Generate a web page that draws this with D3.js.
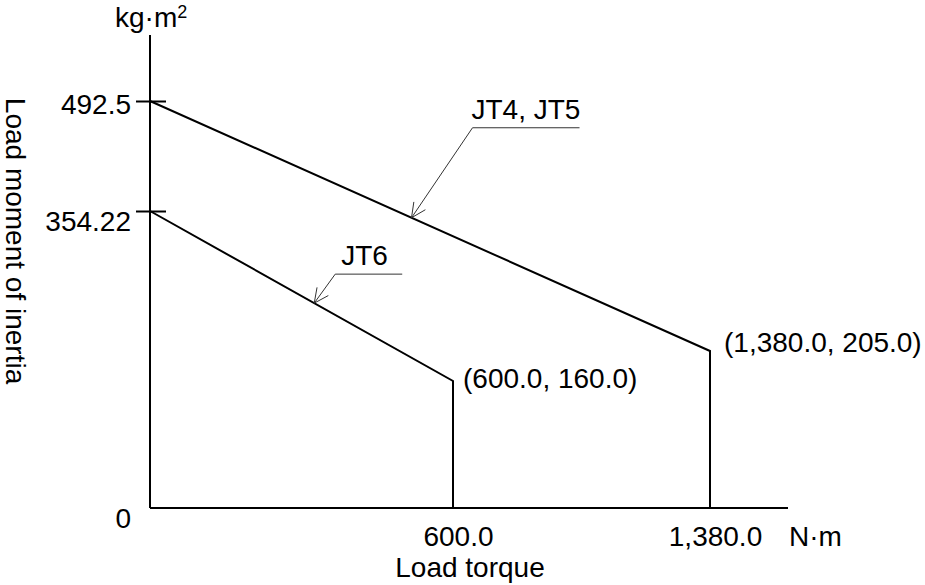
<!DOCTYPE html>
<html>
<head>
<meta charset="utf-8">
<script src="https://d3js.org/d3.v7.min.js"></script>
<style>
  body { margin: 0; background: #fff; }
  text { font-family: "Liberation Sans", Arial, sans-serif; fill: #000; }
</style>
</head>
<body>
<div id="vis"></div>
<script>
// Data
const SERIES_NAMES = ["JT4, JT5", "JT6"];
const MAX_TORQUE = [1380, 600];          // N·m, end of each curve
const INERTIA_AT_ZERO = [492.5, 354.22]; // kg·m² at zero torque
const INERTIA_AT_MAX = [205, 160];       // kg·m² at max torque
const X_TICKS = [600, 1380];
const Y_TICKS = [0, 354.22, 492.5];
const Y_TICK_LABELS = ["0", "354.22", "492.5"];

// Frame
const FRAME_WIDTH = 925;
const FRAME_HEIGHT = 585;
const FONT = 28;

const FRAME = d3.select("#vis")
                .append("svg")
                  .attr("width", FRAME_WIDTH)
                  .attr("height", FRAME_HEIGHT);

// the drawing is not to scale, so the scales are piecewise
const X_SCALE = d3.scaleLinear()
                  .domain([0, 600, 1380])
                  .range([150, 453, 710]);

const Y_SCALE = d3.scaleLinear()
                  .domain([0, 160, 205, 354.22, 492.5])
                  .range([508, 381, 351, 211, 101]);

const AXIS_TOP = 35;
const AXIS_RIGHT = 788;

// axis lines
FRAME.append("line")
      .attr("x1", X_SCALE(0)).attr("x2", X_SCALE(0))
      .attr("y1", Y_SCALE(0)).attr("y2", AXIS_TOP)
      .attr("stroke", "#000").attr("stroke-width", 2);

FRAME.append("line")
      .attr("x1", X_SCALE(0)).attr("x2", AXIS_RIGHT)
      .attr("y1", Y_SCALE(0)).attr("y2", Y_SCALE(0))
      .attr("stroke", "#000").attr("stroke-width", 2);

// y ticks crossing the axis
const Y_AXIS = FRAME.append("g")
      .attr("transform", "translate(" + X_SCALE(0) + ",0)")
      .call(d3.axisLeft(Y_SCALE).tickValues(Y_TICKS).tickFormat((d, i) => Y_TICK_LABELS[i]));

Y_AXIS.select(".domain").remove();
Y_AXIS.selectAll(".tick line")
      .attr("x1", -14).attr("x2", 16)
      .attr("stroke", "#000").attr("stroke-width", 2)
      .style("display", (d) => d === 0 ? "none" : null);
Y_AXIS.selectAll(".tick text")
      .attr("x", -19)
      .attr("dy", (d) => d === 492.5 ? "12px" : "19px")
      .attr("font-size", FONT)
      .attr("font-family", "Liberation Sans, Arial, sans-serif")
      .attr("fill", "#000");

// x tick labels (no tick marks in the drawing)
const X_AXIS = FRAME.append("g")
      .attr("transform", "translate(5," + Y_SCALE(0) + ")")
      .call(d3.axisBottom(X_SCALE).tickValues(X_TICKS).tickFormat(d3.format(",.1f")).tickSize(0));

X_AXIS.select(".domain").remove();
X_AXIS.selectAll(".tick text")
      .attr("y", 0)
      .attr("dy", "38px")
      .attr("font-size", FONT)
      .attr("font-family", "Liberation Sans, Arial, sans-serif")
      .attr("fill", "#000");

// units
const UNIT_Y = FRAME.append("text")
      .attr("x", 115).attr("y", 27)
      .attr("font-size", FONT)
      .text("kg·m");
UNIT_Y.append("tspan")
      .attr("font-size", 18)
      .attr("dy", -9)
      .text("2");

FRAME.append("text")
      .attr("x", AXIS_RIGHT + 1).attr("y", 546)
      .attr("font-size", FONT)
      .text("N·m");

// axis titles
FRAME.append("text")
      .attr("x", 470).attr("y", 577)
      .attr("text-anchor", "middle")
      .attr("font-size", FONT)
      .text("Load torque");

FRAME.append("text")
      .attr("transform", "translate(6,241) rotate(90)")
      .attr("text-anchor", "middle")
      .attr("font-size", FONT)
      .text("Load moment of inertia");

// curves
const CURVES = SERIES_NAMES.map((name, i) => ({
  name: name,
  points: [[0, INERTIA_AT_ZERO[i]], [MAX_TORQUE[i], INERTIA_AT_MAX[i]], [MAX_TORQUE[i], 0]]
}));

const LINE = d3.line()
               .x((d) => X_SCALE(d[0]))
               .y((d) => Y_SCALE(d[1]));

FRAME.selectAll(".curve")
      .data(CURVES)
      .enter()
      .append("path")
        .attr("class", "curve")
        .attr("d", (d) => LINE(d.points))
        .attr("fill", "none")
        .attr("stroke", "#000")
        .attr("stroke-width", 2);

// end point labels
const PT_FMT = d3.format(",.1f");
const PT_OFFSET = [[14, 1], [10, 7]];

FRAME.selectAll(".ptlabel")
      .data(CURVES)
      .enter()
      .append("text")
        .attr("class", "ptlabel")
        .attr("x", (d, i) => X_SCALE(d.points[1][0]) + PT_OFFSET[i][0])
        .attr("y", (d, i) => Y_SCALE(d.points[1][1]) + PT_OFFSET[i][1])
        .attr("font-size", FONT)
        .text((d) => "(" + PT_FMT(d.points[1][0]) + ", " + PT_FMT(d.points[1][1]) + ")");

// leader callouts: where the arrow hits along the sloped segment, elbow, underline length
const CALLOUTS = [
  {t: 0.467, dx: 61, dy: -90, len: 107, tx: -1},
  {t: 0.542, dx: 21, dy: -29, len: 67, tx: 6}
];

CURVES.forEach((c, i) => {
  const co = CALLOUTS[i];
  const x0 = X_SCALE(c.points[0][0]), y0 = Y_SCALE(c.points[0][1]);
  const x1 = X_SCALE(c.points[1][0]), y1 = Y_SCALE(c.points[1][1]);
  const tipX = x0 + co.t * (x1 - x0);
  const tipY = y0 + co.t * (y1 - y0);
  const ex = tipX + co.dx, ey = tipY + co.dy;

  const G = FRAME.append("g")
                 .attr("stroke", "#333")
                 .attr("stroke-width", 1)
                 .attr("fill", "none");

  G.append("path")
   .attr("d", "M" + tipX + "," + tipY + "L" + ex + "," + ey + "L" + (ex + co.len) + "," + ey);

  // open arrow head
  const ang = Math.atan2(co.dy, co.dx);
  [-0.45, 0.45].forEach((a) => {
    G.append("line")
     .attr("x1", tipX).attr("y1", tipY)
     .attr("x2", tipX + 16 * Math.cos(ang + a))
     .attr("y2", tipY + 16 * Math.sin(ang + a));
  });

  FRAME.append("text")
        .attr("x", ex + co.tx)
        .attr("y", ey - 9)
        .attr("font-size", FONT)
        .text(c.name);
});
</script>
</body>
</html>
